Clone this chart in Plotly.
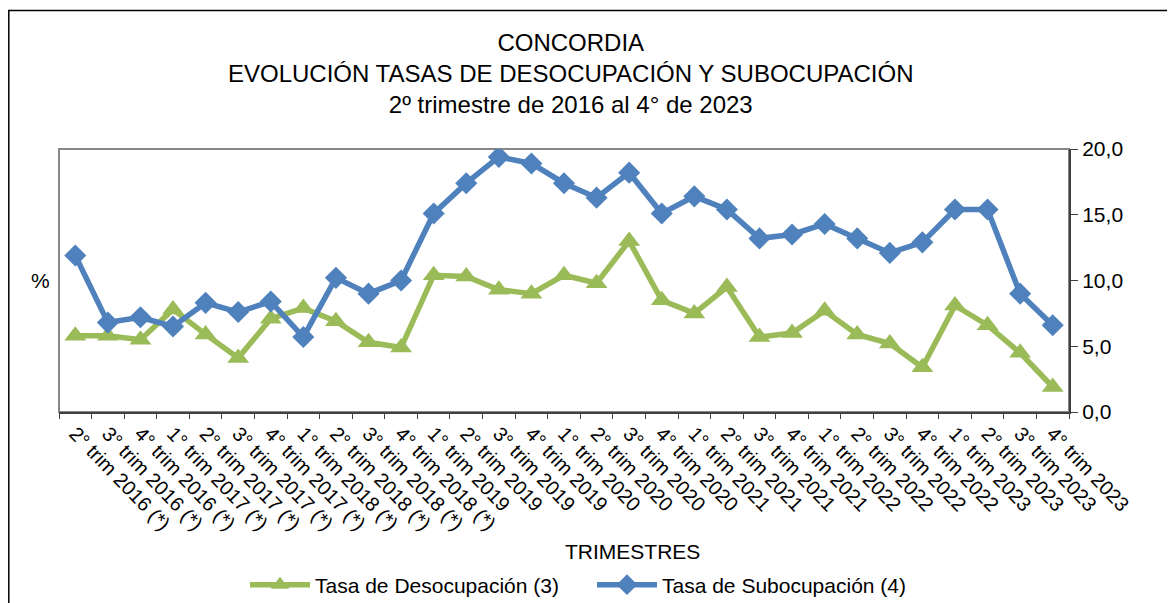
import plotly.graph_objects as go

# ---- data ----
trimestres = [
    "2° trim 2016 (*)", "3° trim 2016 (*)", "4° trim 2016 (*)",
    "1° trim 2017 (*)", "2° trim 2017 (*)", "3° trim 2017 (*)", "4° trim 2017 (*)",
    "1° trim 2018 (*)", "2° trim 2018 (*)", "3° trim 2018 (*)", "4° trim 2018 (*)",
    "1° trim 2019", "2° trim 2019", "3° trim 2019", "4° trim 2019",
    "1° trim 2020", "2° trim 2020", "3° trim 2020", "4° trim 2020",
    "1° trim 2021", "2° trim 2021", "3° trim 2021", "4° trim 2021",
    "1° trim 2022", "2° trim 2022", "3° trim 2022", "4° trim 2022",
    "1° trim 2023", "2° trim 2023", "3° trim 2023", "4° trim 2023",
]
desocupacion = [5.8, 5.8, 5.5, 7.8, 5.9, 4.1, 7.1, 7.9, 6.9, 5.3, 4.9,
                10.4, 10.3, 9.3, 9.0, 10.4, 9.8, 13.0, 8.5, 7.5, 9.5,
                5.7, 6.0, 7.7, 5.9, 5.2, 3.4, 8.1, 6.6, 4.5, 1.9]
subocupacion = [11.9, 6.8, 7.2, 6.5, 8.3, 7.6, 8.4, 5.7, 10.2, 9.0, 10.0,
                15.1, 17.4, 19.4, 18.9, 17.4, 16.3, 18.2, 15.1, 16.4, 15.4,
                13.2, 13.5, 14.3, 13.2, 12.1, 12.9, 15.4, 15.4, 9.0, 6.6]
y_ticks = [0, 5, 10, 15, 20]
title_lines = [
    "CONCORDIA",
    "EVOLUCIÓN TASAS DE DESOCUPACIÓN Y SUBOCUPACIÓN",
    "2º trimestre de 2016 al 4° de 2023",
]

FONT = "Liberation Sans, Arial, sans-serif"
GREEN = "#9BBB59"
BLUE = "#4F81BD"

OFF = 8  # page body margin
W, H = 1175 - OFF, 603 - OFF
L, R, T, B = 59 - OFF, 106, 149 - OFF, 191
pw, ph = W - L - R, H - T - B


def px(x):  # screen x -> paper
    return (x - OFF - L) / pw


def py(y):  # screen y -> paper
    return (H - B - (y - OFF)) / ph


fig = go.Figure()
fig.add_trace(go.Scatter(
    x=trimestres, y=desocupacion, name="Tasa de Desocupación (3)",
    mode="lines+markers",
    line=dict(color=GREEN, width=5.5),
    marker=dict(symbol="triangle-up", size=19, color=GREEN),
))
fig.add_trace(go.Scatter(
    x=trimestres, y=subocupacion, name="Tasa de Subocupación (4)",
    mode="lines+markers",
    line=dict(color=BLUE, width=5.5),
    marker=dict(symbol="diamond", size=17, color=BLUE),
))

fig.update_layout(
    width=W, height=H,
    margin=dict(l=L, r=R, t=T, b=B, autoexpand=False),
    paper_bgcolor="white", plot_bgcolor="white",
    separators=",.",
    font=dict(family=FONT, size=21, color="black"),
    showlegend=True,
    legend=dict(
        orientation="h", x=px(245), xanchor="left", y=py(585), yanchor="middle",
        font=dict(family=FONT, size=21, color="black"),
        bgcolor="rgba(0,0,0,0)", itemwidth=60, tracegroupgap=0,
        entrywidth=272, entrywidthmode="pixels",
    ),
    xaxis=dict(
        type="category", range=[-0.5, len(trimestres) - 0.5],
        tickson="boundaries", ticks="outside", ticklen=5, tickcolor="#404040",
        tickangle=46, showgrid=False, zeroline=False,
        showline=True, linecolor="#404040", linewidth=2,
        tickfont=dict(family=FONT, size=20, color="black"),
        automargin=False,
    ),
    yaxis=dict(
        side="right", range=[0, 20], tickvals=y_ticks, tickformat=".1f",
        ticks="outside", ticklen=7, tickcolor="#404040",
        showgrid=False, zeroline=False,
        showline=True, linecolor="#404040", linewidth=2,
        tickfont=dict(family=FONT, size=21, color="black"),
        automargin=False,
    ),
)

# plot-area border (grey) and outer frame (black)
fig.add_shape(type="rect", xref="paper", yref="paper", x0=0, y0=0, x1=1, y1=1,
              line=dict(color="#868686", width=2), layer="below")
fig.add_shape(type="rect", xref="paper", yref="paper",
              x0=px(8.8), y0=py(640), x1=px(1200), y1=py(10.5),
              line=dict(color="black", width=1.5), layer="below")

fig.add_annotation(text="<br>".join(title_lines), xref="paper", yref="paper",
                   x=px(571), y=py(74), xanchor="center", yanchor="middle",
                   showarrow=False, align="center",
                   font=dict(family=FONT, size=24, color="black"))

fig.add_annotation(text="TRIMESTRES", xref="paper", yref="paper", x=px(632), y=py(551),
                   xanchor="center", yanchor="middle", showarrow=False,
                   font=dict(family=FONT, size=21, color="black"))
fig.add_annotation(text="%", xref="paper", yref="paper", x=px(40), y=py(280),
                   xanchor="center", yanchor="middle", showarrow=False,
                   font=dict(family=FONT, size=21, color="black"))

fig.write_html("out.html")
